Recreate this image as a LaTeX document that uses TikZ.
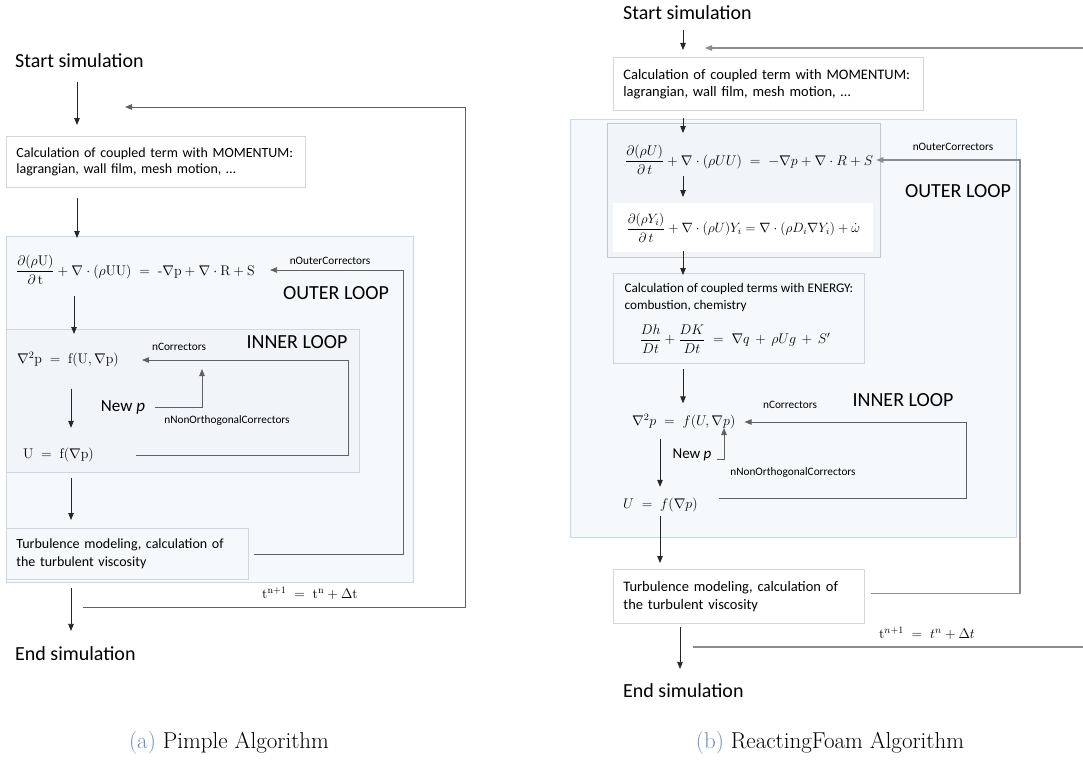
\RequirePackage{fix-cm}
\documentclass[tikz,border=0pt]{standalone}
\usepackage[no-math]{fontspec}
\newfontfamily\calibri{Carlito}
\usepackage{xcolor}
\usetikzlibrary{arrows.meta, positioning}

\definecolor{loopfill}{HTML}{F6F9FC}
\definecolor{loopblue}{HTML}{C6D9EA}
\definecolor{innerfill}{HTML}{F1F4F8}
\definecolor{innergray}{HTML}{CED6DF}
\definecolor{framegray}{HTML}{C4C7CB}
\definecolor{boxgray}{HTML}{D6D6D6}
\definecolor{capblue}{HTML}{6F8FB5}

\newcommand{\sz}[2]{\fontsize{#1}{#2}\selectfont}

\tikzstyle{flowtext}  = [inner sep=0pt, font=\calibri\sz{20}{24}]
\tikzstyle{looptitle} = [inner sep=0pt, font=\calibri\sz{20}{24}]
\tikzstyle{smalltag}  = [inner sep=0pt, font=\calibri\sz{11.3}{13}]
\tikzstyle{eqn}       = [inner sep=0pt, font=\sz{14}{17}]
\tikzstyle{calcbox}   = [draw=boxgray, fill=white, line width=0.8pt, anchor=north west, align=left, inner xsep=10pt, inner ysep=0pt]
\tikzstyle{outerloop} = [draw=loopblue, fill=loopfill, line width=0.8pt, anchor=north west, inner sep=0pt]
\tikzstyle{innerloop} = [draw=innergray, fill=innerfill, line width=0.8pt, anchor=north west, inner sep=0pt]
\tikzstyle{arrow}     = [-{Triangle[length=7pt, width=5.5pt]}, line width=0.8pt, draw=black!85]
\tikzstyle{loopback}  = [arrow, draw=black!62]
\tikzstyle{farback}   = [arrow, draw=black!45, line width=1.1pt]
\tikzstyle{subcap}    = [inner sep=0pt, font=\sz{23}{28}]

\begin{document}
\begin{tikzpicture}[x=1pt, y=-1pt]
  \useasboundingbox (0,0) rectangle (1083,760);

  % ---------- (a) pimple ----------
  \coordinate (colA) at (77,0);
  \coordinate (colA3) at (74,0);
  \coordinate (colA2) at (71,0);
  \coordinate (outerRunA) at (403,0);
  \coordinate (innerRunA) at (348,0);

  \node (outerA) [outerloop, minimum width=407pt, minimum height=346pt] at (6,236) {};
  \node (innerA) [innerloop, minimum width=353pt, minimum height=143pt] at (6,329) {};

  \node (startA) [flowtext, anchor=base west] at (15,67) {Start simulation};
  \node (momA) [calcbox, minimum width=299pt, minimum height=51pt, text width=279pt, font=\calibri\sz{14}{16.5}] at (6,136)
    {Calculation of coupled term with MOMENTUM:\\lagrangian, wall film, mesh motion, …};
  \node (momEqA) [eqn, anchor=west] at (16,270)
    {$\displaystyle\frac{\partial(\rho\mathrm{U})}{\partial\,\mathrm{t}} + \nabla\cdot(\rho\mathrm{UU}) \;=\; \mbox{-}\nabla\mathrm{p} + \nabla\cdot\mathrm{R} + \mathrm{S}$};
  \node (outerTagA) [smalltag] at (330,261) {nOuterCorrectors};
  \node (outerTitleA) [looptitle] at (336,293) {OUTER LOOP};

  \node (poissonA) [eqn, anchor=west] at (17,360) {$\nabla^2\mathrm{p} \;=\; \mathrm{f}(\mathrm{U},\nabla\mathrm{p})$};
  \node (innerTagA) [smalltag] at (179,347) {nCorrectors};
  \node (innerTitleA) [looptitle] at (297,342) {INNER LOOP};
  \node (newpA) [flowtext, font=\calibri\sz{17}{20}] at (123,407) {New \textit{p}};
  \node (orthoTagA) [smalltag] at (227,421) {nNonOrthogonalCorrectors};
  \node (velA) [eqn, anchor=west] at (23,455) {$\mathrm{U} \;=\; \mathrm{f}(\nabla\mathrm{p})$};
  \coordinate (newpTipA) at (202,369);

  \node (turbA) [calcbox, draw=innergray, fill=loopfill, minimum width=242pt, minimum height=51pt, text width=222pt, font=\calibri\sz{14}{18}] at (6,528)
    {Turbulence modeling, calculation of\\the turbulent viscosity};
  \node (stepA) [eqn] at (310,593) {$\mathrm{t}^{\mathrm{n+1}} \;=\; \mathrm{t}^{\mathrm{n}} + \Delta\mathrm{t}$};
  \node (endA) [flowtext, anchor=base west] at (15,660) {End simulation};
  \coordinate (nextA) at (83,607);
  \coordinate (backA) at (125,107);

  \draw [arrow, shorten <=15pt, shorten >=11pt] (startA.base -| colA) -- (momA.north -| colA);
  \draw [arrow, shorten <=10pt, shorten >=-2pt] (momA.south -| colA) -- (outerA.north -| colA);
  \draw [arrow, shorten <=11pt, shorten >=-5pt] (momEqA.south -| colA3) -- (innerA.north -| colA3);
  \draw [arrow, shorten <=21pt, shorten >=20pt] (poissonA.south -| colA2) -- (velA.north -| colA2);
  \draw [arrow, shorten <=16pt, shorten >=8pt] (velA.south -| colA2) -- (turbA.north -| colA2);
  \draw [arrow, shorten <=8pt, shorten >=15pt] (turbA.south -| colA2) -- (endA.north -| colA2);

  \draw [loopback] ([xshift=5pt]turbA.east) -| (outerRunA |- momEqA.east) -- ([xshift=15pt]momEqA.east);
  \draw [loopback] ([xshift=42pt]velA.east) -| (innerRunA |- poissonA.east) -- ([xshift=23pt]poissonA.east);
  \draw [loopback] ([xshift=10pt]newpA.east) -| (newpTipA);
  \draw [loopback] (nextA) -| ([xshift=340pt]backA) -- (backA);

  \node (capA) [subcap] at (229,743) {\textcolor{capblue}{(a)} Pimple Algorithm};

  % ---------- (b) reactingFoam ----------
  \coordinate (colB) at (683,0);
  \coordinate (colB2) at (660,0);
  \coordinate (colB3) at (680,0);
  \coordinate (outerRunB) at (1020,0);
  \coordinate (innerRunB) at (966,0);
  \coordinate (edgeR) at (1083,0);

  \node (outerB) [outerloop, minimum width=446pt, minimum height=418pt] at (570,119) {};
  \node (innerB) [innerloop, draw=framegray, line width=1.2pt, minimum width=273pt, minimum height=134pt] at (607,123) {};

  \node (startB) [flowtext, anchor=base west] at (623,20) {Start simulation};
  \node (momB) [calcbox, minimum width=310pt, minimum height=53pt, text width=290pt, font=\calibri\sz{14.5}{17}] at (613,57)
    {Calculation of coupled term with MOMENTUM:\\lagrangian, wall film, mesh motion, …};
  \node (momEqB) [eqn, anchor=west] at (625,160)
    {$\displaystyle\frac{\partial(\rho U)}{\partial\,t} + \nabla\cdot(\rho UU) \;=\; -\nabla p + \nabla\cdot R + S$};
  \node (outerTagB) [smalltag] at (953,147) {nOuterCorrectors};
  \node (outerTitleB) [looptitle] at (958,191) {OUTER LOOP};

  \node (speciesB) [calcbox, draw=none, align=center, minimum width=260pt, minimum height=49pt, font=\sz{13.5}{16}] at (613,203)
    {$\displaystyle\frac{\partial(\rho Y_i)}{\partial\,t} + \nabla\cdot(\rho U)Y_i = \nabla\cdot(\rho D_i\nabla Y_i) + \dot\omega$};

  \node (energyB) [calcbox, draw=innergray, fill=loopfill, minimum width=251pt, minimum height=90pt, font=\calibri\sz{13.2}{17}] at (613,273)
    {Calculation of coupled terms with ENERGY:\\combustion, chemistry\\[12pt]
     \hspace*{15pt}{\sz{14}{17}$\displaystyle\frac{Dh}{Dt} + \frac{DK}{Dt} \;=\; \nabla q \,+\, \rho U g \,+\, S'$}};

  \node (poissonB) [eqn, anchor=west] at (632,422) {$\nabla^2 p \;=\; f(U,\nabla p)$};
  \node (innerTagB) [smalltag] at (790,405) {nCorrectors};
  \node (innerTitleB) [looptitle] at (903,400) {INNER LOOP};
  \node (newpB) [flowtext, font=\calibri\sz{15}{18}] at (692,455) {New \textit{p}};
  \node (orthoTagB) [smalltag] at (793,473) {nNonOrthogonalCorrectors};
  \node (velB) [eqn, anchor=west] at (623,505) {$U \;=\; f(\nabla p)$};
  \coordinate (newpTipB) at (724,428);

  \node (turbB) [calcbox, minimum width=251pt, minimum height=54pt, text width=231pt, font=\calibri\sz{14.5}{18}] at (613,569)
    {Turbulence modeling, calculation of\\the turbulent viscosity};
  \node (stepB) [eqn] at (927,633) {$\mathrm{t}^{n+1} \;=\; t^n + \Delta t$};
  \node (endB) [flowtext, anchor=base west] at (623,697) {End simulation};
  \coordinate (nextB) at (693,647);
  \coordinate (backB) at (705,48);

  \draw [arrow, shorten <=10pt, shorten >=7pt] (startB.base -| colB) -- (momB.north -| colB);
  \draw [arrow, shorten <=7pt, shorten >=-10pt] (momB.south -| colB) -- (innerB.north -| colB);
  \draw [arrow, shorten <=1pt, shorten >=6pt] (momEqB.south -| colB) -- (speciesB.north -| colB);
  \draw [arrow, shorten <=-7pt, shorten >=-2pt] (innerB.south -| colB) -- (energyB.north -| colB);
  \draw [arrow, shorten <=5pt, shorten >=11pt] (energyB.south -| colB) -- (poissonB.north -| colB);
  \draw [arrow, shorten <=9pt, shorten >=11pt] (poissonB.south -| colB2) -- (velB.north -| colB2);
  \draw [arrow, shorten <=4pt, shorten >=6pt] (velB.south -| colB2) -- (turbB.north -| colB2);
  \draw [arrow, shorten <=3pt, shorten >=14pt] (turbB.south -| colB3) -- (endB.north -| colB3);

  \draw [farback] ([xshift=6pt,yshift=3pt]turbB.east) -| (outerRunB |- momEqB.east) -- ([xshift=3pt]momEqB.east);
  \draw [loopback] ([xshift=21pt,yshift=7pt]velB.east) -| (innerRunB |- poissonB.east) -- ([xshift=9pt]poissonB.east);
  \draw [loopback] ([xshift=5pt,yshift=-4pt]newpB.east) -| (newpTipB);
  \draw [farback, -] (nextB) -- (nextB -| edgeR);
  \draw [farback] (backB -| edgeR) -- (backB);

  \node (capB) [subcap] at (830,743) {\textcolor{capblue}{(b)} ReactingFoam Algorithm};
\end{tikzpicture}
\end{document}
